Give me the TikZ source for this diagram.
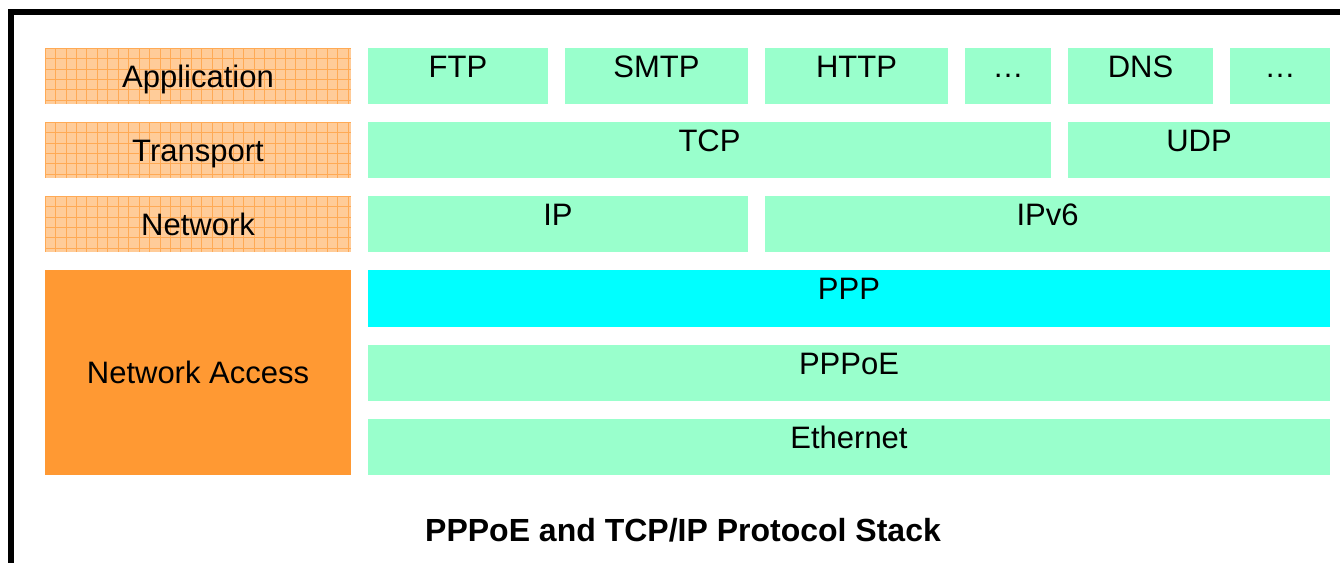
\documentclass[tikz,border=0pt]{standalone}
\usepackage{fontspec}
\setmainfont{Liberation Sans}
\definecolor{mint}{HTML}{99FFCC}
\definecolor{aqua}{HTML}{00FFFF}
\definecolor{layerorange}{HTML}{FF9933}
\definecolor{paleorange}{HTML}{FFCC99}
\definecolor{gridorange}{HTML}{FFAA55}
\tikzset{
  cell/.style={draw=none, inner sep=0pt, outer sep=0pt},
  celltext/.style={anchor=base, inner sep=0pt, font=\fontsize{31}{37}\selectfont},
  gridline/.style={gridorange, line width=0.8pt},
  frameline/.style={line width=6pt, black},
}
% \blk{name}{x1}{y1}{x2}{y2}{fill}{text}{baseline offset from top}
\newcommand\blk[8]{%
  \node[cell, fill=#6, minimum width={(#4-#2)*1pt}, minimum height={(#5-#3)*1pt}]
    (#1) at ({(#2+#4)/2},{(#3+#5)/2}) {};
  \node[celltext] (#1-t) at ([yshift=-#8pt]#1.north) {#7};
}
% gridded layer box: \gblk{name}{x1}{y1}{text}
\newcommand\gblk[4]{%
  \node[cell, fill=paleorange, minimum width=306pt, minimum height=56pt]
    (#1) at ({#2+153},{#3+28}) {};
  \foreach \i in {0,...,29} \draw[gridline] ({#2+\i*10.45},#3) -- ++(0,56);
  \foreach \j in {0,...,5} \draw[gridline] (#2,{#3+\j*10.45}) -- ++(306,0);
  \node[celltext] (#1-t) at ([yshift=-39pt]#1.north) {#4};
}
\begin{document}
\begin{tikzpicture}[x=1pt,y=-1pt]
\useasboundingbox (0,0) rectangle (1340,563);
% outer frame (top and left edges visible)
\coordinate (ftl) at (11,11.75);
\coordinate (ftr) at (1340,11.75);
\coordinate (fbl) at (11,563);
\draw[frameline] (ftr) -- (ftl) -- (fbl);

% layer names
\gblk{app}{45}{48}{Application}
\gblk{trans}{45}{122}{Transport}
\gblk{net}{45}{196}{Network}
\node[cell, fill=layerorange, minimum width=306pt, minimum height=205pt]
  (acc) at (198,372.5) {};
\node[celltext] (acc-t) at ([yshift=-113pt]acc.north) {Network Access};

% application protocols
\blk{ftp}{368}{48}{548}{104}{mint}{FTP}{29}
\blk{smtp}{565}{48}{748}{104}{mint}{SMTP}{29}
\blk{http}{765}{48}{948}{104}{mint}{HTTP}{29}
\blk{dotsa}{965}{48}{1051}{104}{mint}{\ldots}{29}
\blk{dns}{1068}{48}{1213}{104}{mint}{DNS}{29}
\blk{dotsb}{1230}{48}{1330}{104}{mint}{\ldots}{29}
% transport
\blk{tcp}{368}{122}{1051}{178}{mint}{TCP}{29}
\blk{udp}{1068}{122}{1330}{178}{mint}{UDP}{29}
% network
\blk{ip}{368}{196}{748}{252}{mint}{IP}{29}
\blk{ipv6}{765}{196}{1330}{252}{mint}{IPv6}{29}
% network access
\blk{ppp}{368}{270}{1330}{327}{aqua}{PPP}{29}
\blk{pppoe}{368}{345}{1330}{401}{mint}{PPPoE}{29}
\blk{eth}{368}{419}{1330}{475}{mint}{Ethernet}{29}

% caption
\node[anchor=base, inner sep=0pt, font=\bfseries\fontsize{32}{38}\selectfont]
  (title) at (683,541) {PPPoE and TCP/IP Protocol Stack};
\end{tikzpicture}
\end{document}
